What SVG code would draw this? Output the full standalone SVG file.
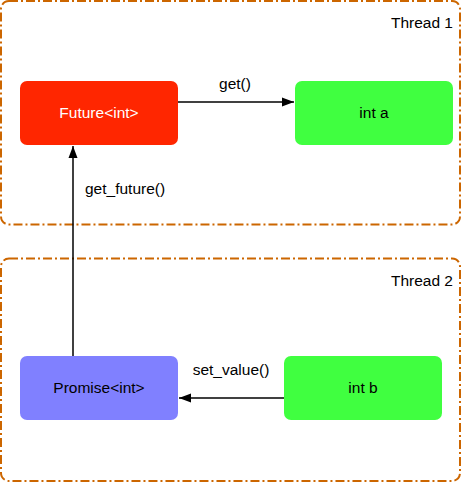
<svg xmlns="http://www.w3.org/2000/svg" width="462" height="483" viewBox="0 0 462 483">
<defs>
<style>
text{font-family:"Liberation Sans",Arial,sans-serif;font-size:15.5px;fill:#000}
.thread{fill:none;stroke:#CC6600;stroke-width:2;stroke-dasharray:9 3 2 3}
.node{stroke:none}
.c{text-anchor:middle}
.edge{fill:none;stroke:#000;stroke-width:1.5}
</style>
<marker id="arr" viewBox="0 0 12 10" refX="12" refY="5" markerWidth="12" markerHeight="10" markerUnits="userSpaceOnUse" orient="auto">
<path d="M0,0.5 L12,5 L0,9.5 Z" fill="#000"/>
</marker>
</defs>
<g id="thread1">
<rect class="thread" x="1" y="1" width="459" height="223.5" rx="8"/>
<text x="453" y="28" text-anchor="end">Thread 1</text>
</g>
<g id="thread2">
<rect class="thread" x="1" y="258.5" width="459" height="222.5" rx="8"/>
<text x="453" y="286" text-anchor="end">Thread 2</text>
</g>
<g id="future">
<rect class="node" x="20" y="81" width="158" height="64" rx="7" fill="#FF2600"/>
<text class="c" x="99" y="118" style="fill:#fff">Future&lt;int&gt;</text>
</g>
<g id="inta">
<rect class="node" x="295" y="81" width="158" height="64" rx="7" fill="#40FF40"/>
<text class="c" x="374" y="118">int a</text>
</g>
<g id="promise">
<rect class="node" x="20" y="356" width="158" height="64" rx="7" fill="#8080FF"/>
<text class="c" x="99" y="393">Promise&lt;int&gt;</text>
</g>
<g id="intb">
<rect class="node" x="284" y="356" width="158" height="64" rx="7" fill="#40FF40"/>
<text class="c" x="363" y="393">int b</text>
</g>
<g id="connectors">
<path class="edge" d="M178,102 L294,102" marker-end="url(#arr)"/>
<text class="c" x="235" y="89">get()</text>
<path class="edge" d="M73,356 L73,146" marker-end="url(#arr)"/>
<text x="85" y="194">get_future()</text>
<path class="edge" d="M284,398 L179,398" marker-end="url(#arr)"/>
<text class="c" x="231" y="375">set_value()</text>
</g>
</svg>
